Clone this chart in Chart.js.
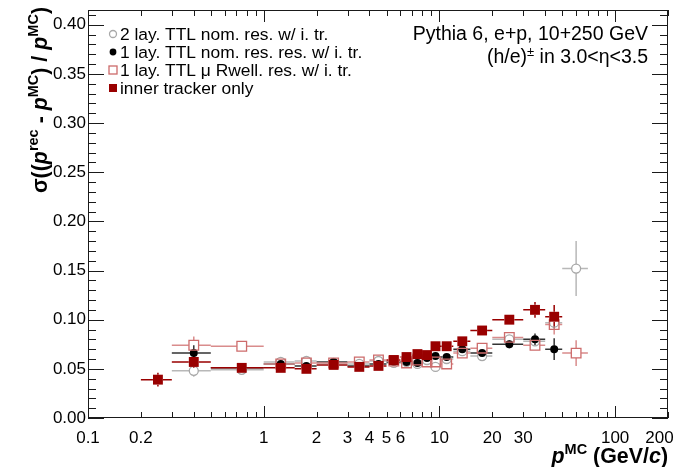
<!DOCTYPE html>
<html><head><meta charset="utf-8">
<script src="https://cdn.jsdelivr.net/npm/chart.js@4.4.1/dist/chart.umd.min.js"></script>
<style>html,body{margin:0;padding:0;background:#fff}canvas{display:block}</style>
</head><body>
<canvas id="c" width="677" height="467"></canvas>
<script>
// ---- data ----
const pCenter = [0.25,0.4,0.75,1.25,1.75,2.5,3.5,4.5,5.5,6.5,7.5,8.5,9.5,11,13.5,17.5,25,35,45,60];
const binLow  = [0.2,0.3,0.5,1,1.5,2,3,4,5,6,7,8,9,10,12,15,20,30,40,50];
const binHigh = [0.3,0.5,1,1.5,2,3,4,5,6,7,8,9,10,12,15,20,30,40,50,70];

const seriesNames = [
  "2 lay. TTL nom. res. w/ i. tr.",
  "1 lay. TTL nom. res. res. w/ i. tr.",
  "1 lay. TTL \u03bc Rwell. res. w/ i. tr.",
  "inner tracker only"
];
const res2LayNom = [null,0.048,0.049,0.057,0.058,0.056,0.055,0.058,0.056,0.057,0.055,0.059,0.052,0.060,0.068,0.063,0.080,0.078,0.097,0.152];
const err2LayNom = [null,0.006,0.002,0.002,0.002,0.002,0.002,0.002,0.002,0.002,0.002,0.002,0.002,0.002,0.003,0.003,0.004,0.004,0.006,0.028];
const res1LayNom = [null,0.066,0.051,0.055,0.053,0.057,0.053,0.055,0.057,0.057,0.056,0.061,0.063,0.062,0.070,0.066,0.075,0.080,0.070,null];
const err1LayNom = [null,0.008,0.002,0.002,0.002,0.002,0.002,0.002,0.002,0.002,0.002,0.002,0.002,0.002,0.003,0.003,0.004,0.006,0.011,null];
const res1LayRwell = [null,0.074,0.073,0.055,0.056,0.056,0.057,0.059,0.058,0.056,0.059,0.057,0.057,0.055,0.066,0.071,0.082,0.074,0.095,0.066];
const err1LayRwell = [null,0.009,0.002,0.002,0.002,0.002,0.002,0.002,0.002,0.002,0.002,0.002,0.002,0.002,0.003,0.003,0.004,0.005,0.010,0.013];
const resInnerOnly = [0.039,0.057,0.051,0.051,0.050,0.054,0.052,0.053,0.059,0.062,0.065,0.064,0.073,0.073,0.078,0.089,0.100,0.110,0.103,null];
const errInnerOnly = [0.007,0.006,0.002,0.002,0.002,0.002,0.002,0.002,0.002,0.002,0.002,0.002,0.002,0.002,0.003,0.003,0.003,0.008,0.012,null];

const xTickValues = [0.1,0.2,0.3,0.4,0.5,0.6,0.7,0.8,0.9,1,2,3,4,5,6,7,8,9,10,20,30,40,50,60,70,80,90,100,200];
const xMajorTicks = [0.1,1,10,100];
const xTickLabels = [0.1,0.2,1,2,3,4,5,6,10,20,30,100,200];
const yTickValues = [0,0.05,0.10,0.15,0.20,0.25,0.30,0.35,0.40];

// ---- styling ----
const FAM = '"Liberation Sans", Arial, Helvetica, sans-serif';
const cGrey = '#a8a8a8', cBlack = '#000000', cPink = '#cd6b6b', cRed = '#990000';

function pts(vals, errs){
  const out = [];
  vals.forEach((v,i)=>{ if(v!==null) out.push({x:pCenter[i], y:v, xLow:binLow[i], xHigh:binHigh[i], yErr:errs[i]}); });
  return out;
}

const errorBars = {
  id:'errorBars',
  beforeDatasetsDraw(chart){
    const {ctx, chartArea:a, scales:{x,y}} = chart;
    ctx.save();
    ctx.beginPath(); ctx.rect(a.left,a.top,a.right-a.left,a.bottom-a.top); ctx.clip();
    chart.data.datasets.slice().reverse().forEach(ds=>{
      ctx.strokeStyle = ds.errColor; ctx.lineWidth = 1.5;
      const g = ds.gap;
      ds.data.forEach(p=>{
        const cx = x.getPixelForValue(p.x), cy = y.getPixelForValue(p.y);
        const xl = x.getPixelForValue(p.xLow), xh = x.getPixelForValue(p.xHigh);
        const yl = y.getPixelForValue(p.y - p.yErr), yh = y.getPixelForValue(p.y + p.yErr);
        ctx.beginPath();
        if (xl < cx-g){ ctx.moveTo(xl,cy); ctx.lineTo(cx-g,cy); }
        if (xh > cx+g){ ctx.moveTo(cx+g,cy); ctx.lineTo(xh,cy); }
        if (yl > cy+g){ ctx.moveTo(cx,cy+g); ctx.lineTo(cx,yl); }
        if (yh < cy-g){ ctx.moveTo(cx,cy-g); ctx.lineTo(cx,yh); }
        ctx.stroke();
      });
    });
    ctx.restore();
  }
};

const frame = {
  id:'frame',
  afterDraw(chart){
    const {ctx, chartArea:a, scales:{x,y}} = chart;
    ctx.save();
    ctx.strokeStyle = '#1a1a1a'; ctx.lineWidth = 1;
    ctx.strokeRect(a.left+0.5, a.top+0.5, a.right-a.left-1, a.bottom-a.top-1);
    const line=(x1,y1,x2,y2)=>{ctx.beginPath();ctx.moveTo(x1,y1);ctx.lineTo(x2,y2);ctx.stroke();};
    xTickValues.forEach(v=>{
      const px = Math.round(x.getPixelForValue(v))+0.5;
      const L = xMajorTicks.includes(v) ? 12 : 6;
      line(px,a.bottom,px,a.bottom-L); line(px,a.top,px,a.top+L);
    });
    for (let k=0;k<=41;k++){
      const v = k/100, py = Math.round(y.getPixelForValue(v))+0.5;
      if (py < a.top) continue;
      const L = (k%5===0) ? 16 : 8;
      line(a.left,py,a.left+L,py); line(a.right,py,a.right-L,py);
    }
    ctx.restore();
  }
};

function rich(ctx, parts, x, y, align){
  let W = 0;
  parts.forEach(p=>{ ctx.font = p.f; p.w = ctx.measureText(p.t).width; W += p.w; });
  let cx = align==='right' ? x - W : x;
  parts.forEach(p=>{ ctx.font = p.f; ctx.fillText(p.t, cx, y + (p.dy||0)); cx += p.w; });
  return W;
}

function marker(ctx, kind, x, y){
  ctx.save(); ctx.lineWidth = 1.3;
  if (kind==='openCircle'){ ctx.strokeStyle=cGrey; ctx.beginPath(); ctx.arc(x,y,3.5,0,Math.PI*2); ctx.stroke(); }
  if (kind==='fullCircle'){ ctx.fillStyle=cBlack; ctx.beginPath(); ctx.arc(x,y,3.4,0,Math.PI*2); ctx.fill(); }
  if (kind==='openSquare'){ ctx.strokeStyle=cPink; ctx.strokeRect(x-4,y-4,8,8); }
  if (kind==='fullSquare'){ ctx.fillStyle=cRed; ctx.fillRect(x-4,y-4,8,8); }
  ctx.restore();
}

const texts = {
  id:'texts',
  afterDraw(chart){
    const ctx = chart.ctx;
    ctx.save();
    ctx.fillStyle = '#000'; ctx.textBaseline = 'alphabetic'; ctx.textAlign = 'left';
    // legend
    const kinds = ['openCircle','fullCircle','openSquare','fullSquare'];
    const ly = [34,52,70,88];
    kinds.forEach((k,i)=>{
      marker(ctx,k,113,ly[i]);
      ctx.font = '17.4px '+FAM; ctx.fillStyle='#000';
      ctx.fillText(seriesNames[i], 120, ly[i]+6);
    });
    // top-right label
    const N='19.5px '+FAM;
    rich(ctx,[{t:'Pythia 6, e+p, 10+250 GeV', f:N}], 648, 40, 'right');
    rich(ctx,[{t:'(h/e)', f:N},{t:'\u00b1', f:'13px '+FAM, dy:-7},{t:' in 3.0<\u03b7<3.5', f:N}], 648, 63, 'right');
    // x title
    const B='bold 21.4px '+FAM, BI='italic bold 21.4px '+FAM, S='bold 14.5px '+FAM;
    rich(ctx,[{t:'p',f:BI},{t:'MC',f:S,dy:-9},{t:' (GeV/',f:B},{t:'c',f:BI},{t:')',f:B}], 668, 463, 'right');
    // y title (rotated)
    ctx.save();
    ctx.translate(47, 7);
    ctx.rotate(-Math.PI/2);
    rich(ctx,[{t:'\u03c3((',f:B},{t:'p',f:BI},{t:'rec',f:S,dy:-9},{t:' - ',f:B},{t:'p',f:BI},{t:'MC',f:S,dy:-9},{t:') / ',f:B},{t:'p',f:BI},{t:'MC',f:S,dy:-9},{t:')',f:B}], 0, 0, 'right');
    ctx.restore();
    ctx.restore();
  }
};

new Chart(document.getElementById('c'), {
  type:'scatter',
  data:{datasets:[
    {label:seriesNames[3], data:pts(resInnerOnly,errInnerOnly), pointStyle:'rect', radius:7, backgroundColor:cRed, borderColor:cRed, borderWidth:0, errColor:cRed, gap:5, order:0},
    {label:seriesNames[2], data:pts(res1LayRwell,err1LayRwell), pointStyle:'rect', radius:6.8, backgroundColor:'rgba(255,255,255,0)', borderColor:cPink, borderWidth:1.3, errColor:'#d98c8c', gap:5, order:1},
    {label:seriesNames[1], data:pts(res1LayNom,err1LayNom), pointStyle:'circle', radius:4, backgroundColor:cBlack, borderColor:cBlack, borderWidth:0, errColor:'#333', gap:3.5, order:2},
    {label:seriesNames[0], data:pts(res2LayNom,err2LayNom), pointStyle:'circle', radius:4.5, backgroundColor:'rgba(255,255,255,0)', borderColor:cGrey, borderWidth:1.3, errColor:'#b8b8b8', gap:4.5, order:3}
  ]},
  options:{
    responsive:false, animation:false, devicePixelRatio:1,
    layout:{padding:{left:0,right:9,top:10,bottom:0}},
    plugins:{legend:{display:false}, tooltip:{enabled:false}},
    elements:{point:{hoverRadius:0}},
    scales:{
      x:{type:'logarithmic', min:0.1, max:200,
        grid:{display:false, drawTicks:false}, border:{display:false},
        afterBuildTicks:s=>{ s.ticks = xTickValues.map(v=>({value:v})); },
        afterFit:s=>{ s.height = 49; s.paddingLeft=0; s.paddingRight=0; },
        ticks:{autoSkip:false, maxRotation:0, padding:10, color:'#000', font:{family:FAM, size:17},
          callback:v=> xTickLabels.includes(v) ? (v===200 ? '200\u2002\u2002' : String(v)) : ''}
      },
      y:{type:'linear', min:0, max:0.415,
        grid:{display:false, drawTicks:false}, border:{display:false},
        afterBuildTicks:s=>{ s.ticks = yTickValues.map(v=>({value:v})); },
        afterFit:s=>{ s.width = 88; s.paddingTop=0; s.paddingBottom=0; },
        ticks:{padding:2, color:'#000', font:{family:FAM, size:17}, callback:v=>Number(v).toFixed(2)}
      }
    }
  },
  plugins:[errorBars, frame, texts]
});
</script>
</body></html>
